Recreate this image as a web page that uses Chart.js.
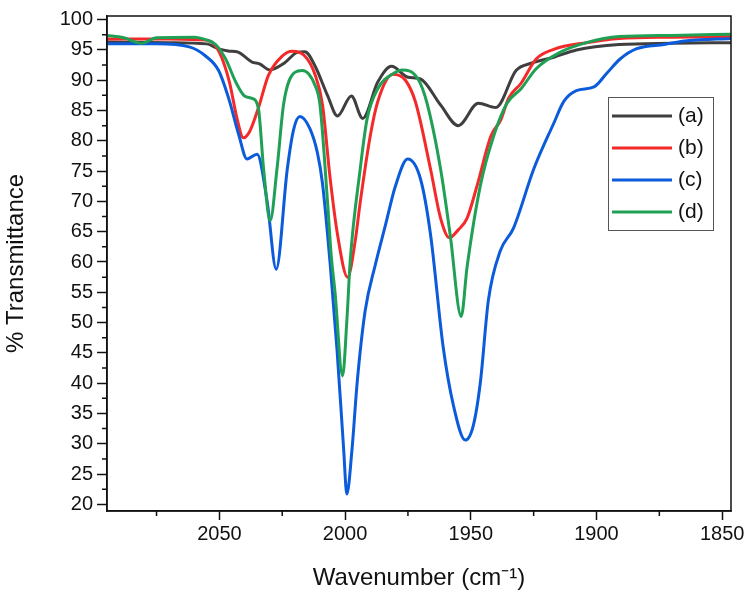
<!DOCTYPE html>
<html>
<head>
<meta charset="utf-8">
<script src="https://cdn.jsdelivr.net/npm/chart.js@4.4.0/dist/chart.umd.min.js"></script>
<style>
  html, body { margin: 0; padding: 0; background: #fff; }
  #wrap { width: 750px; height: 600px; }
</style>
</head>
<body>
<div id="wrap"><canvas id="irChart" width="750" height="600"></canvas></div>
<script>
// wavenumber (cm-1) / % transmittance for each sample
var aWave = [2095, 2070, 2055, 2051, 2046, 2043, 2037, 2034, 2030, 2024, 2019, 2016, 2012, 2007, 2003, 1997.5, 1993, 1987, 1981.5, 1975, 1970, 1962, 1955, 1947, 1940, 1932, 1926, 1917, 1908, 1891, 1870, 1846];
var aTrans = [96.3, 96.2, 96.0, 95.3, 94.8, 94.7, 93.0, 92.7, 91.7, 92.9, 94.6, 94.7, 92.4, 87.5, 84.1, 87.4, 83.7, 89.7, 92.3, 90.5, 90.2, 85.9, 82.5, 86.2, 85.5, 91.6, 92.8, 93.8, 95.0, 95.9, 96.1, 96.2];

var bWave = [2095, 2070, 2058, 2054, 2050, 2046, 2043, 2040.5, 2038, 2034.5, 2030.5, 2025, 2021, 2016, 2012, 2009, 2006, 2003, 1999, 1996, 1994, 1990, 1987, 1981, 1976, 1972, 1966, 1962, 1958.5, 1955, 1951.5, 1947.5, 1942, 1938, 1935, 1930, 1924, 1917, 1904, 1891, 1870, 1846];
var bTrans = [96.8, 96.8, 96.7, 96.5, 94.6, 89.7, 83.7, 80.5, 81.5, 85.4, 90.8, 94.0, 94.8, 94.0, 91.0, 86.0, 74.0, 64.5, 57.5, 63.4, 69.8, 80.8, 86.5, 91.0, 90.0, 86.4, 75.3, 67.2, 64.0, 65.3, 67.2, 72.6, 80.8, 83.5, 87.0, 89.5, 93.5, 95.1, 96.2, 96.9, 97.1, 97.2];

var cWave = [2095, 2075, 2062, 2055.5, 2050.3, 2046.3, 2042.3, 2039, 2035, 2031, 2027.4, 2023, 2020.5, 2018, 2014, 2011, 2009, 2006, 2003.2, 2000.6, 1999.3, 1997.2, 1995.2, 1992, 1988, 1984, 1980, 1975.1, 1970, 1966, 1961, 1957, 1952.2, 1949, 1946.2, 1943, 1938.3, 1933, 1925, 1917, 1913, 1908, 1901, 1896, 1890.6, 1884, 1873, 1864, 1846];
var cTrans = [96.0, 96.0, 95.5, 94.0, 91.6, 87.0, 81.0, 77.0, 77.8, 70.0, 58.8, 75.3, 81.8, 84.0, 82.0, 78.0, 73.0, 60.0, 45.5, 29.3, 21.7, 29.3, 40.1, 52.0, 59.5, 66.0, 72.5, 77.0, 73.7, 64.5, 46.0, 36.5, 30.6, 33.0, 40.1, 53.7, 61.8, 65.6, 75.3, 82.9, 86.5, 88.3, 88.9, 91.1, 93.5, 95.2, 95.9, 96.5, 96.9];

var dWave = [2095, 2088, 2081, 2075, 2060, 2055.5, 2051.5, 2047.5, 2043.5, 2040, 2037, 2034.5, 2032.4, 2029.8, 2027.1, 2024.4, 2020, 2017, 2012, 2010, 2007, 2005.5, 2004, 2001, 1999.2, 1998, 1994, 1991.3, 1987, 1980, 1977.5, 1971, 1967.4, 1962, 1958.2, 1953.8, 1951.5, 1946.2, 1940.9, 1935.6, 1930, 1924, 1914.5, 1904, 1891, 1870, 1846];
var dTrans = [97.4, 97.0, 96.1, 97.0, 97.1, 96.7, 95.9, 93.5, 89.7, 87.4, 87.0, 85.4, 75.3, 66.8, 75.3, 86.2, 91.3, 91.6, 89.2, 86.0, 70.0, 61.0, 55.0, 41.2, 51.0, 60.0, 75.3, 83.5, 88.6, 91.3, 91.7, 90.2, 86.2, 75.3, 64.5, 51.0, 59.1, 72.6, 80.8, 86.2, 88.6, 91.9, 94.6, 96.2, 97.2, 97.4, 97.6];

var seriesLabels = ['(a)', '(b)', '(c)', '(d)'];
var seriesColors = ['#3f3f3f', '#f42a2a', '#0b5bdb', '#20a055'];

var xTicks = [2050, 2000, 1950, 1900, 1850];
var xMinor = [2075, 2025, 1975, 1925, 1875];
var yTicks = [20, 25, 30, 35, 40, 45, 50, 55, 60, 65, 70, 75, 80, 85, 90, 95, 100];
var yMinor = [22.5, 27.5, 32.5, 37.5, 42.5, 47.5, 52.5, 57.5, 62.5, 67.5, 72.5, 77.5, 82.5, 87.5, 92.5, 97.5];

function toPoints(xs, ys) {
	var pts = [];
	for (var i = 0; i < xs.length; i++) {
		pts.push({x: xs[i], y: ys[i]});
	}
	return pts;
}

var waves = [aWave, bWave, cWave, dWave];
var trans = [aTrans, bTrans, cTrans, dTrans];
var drawOrder = [4, 3, 2, 1];

var datasets = [];
for (var i = 0; i < seriesLabels.length; i++) {
	datasets.push({
		label: seriesLabels[i],
		data: toPoints(waves[i], trans[i]),
		borderColor: seriesColors[i],
		backgroundColor: seriesColors[i],
		borderWidth: 3,
		pointRadius: 0,
		fill: false,
		cubicInterpolationMode: 'monotone',
		order: drawOrder[i]
	});
}

var FONT = '"Liberation Sans", Arial, sans-serif';

// frame, minor ticks and the boxed legend inside the plot
var framePlugin = {
	id: 'frame',
	afterDraw: function(chart) {
		var ctx = chart.ctx;
		var area = chart.chartArea;
		var xs = chart.scales.x, ys = chart.scales.y;
		ctx.save();
		ctx.strokeStyle = '#111';
		ctx.lineWidth = 1.5;
		ctx.strokeRect(area.left, area.top, area.right - area.left, area.bottom - area.top);

		ctx.beginPath();
		xMinor.forEach(function(v) {
			var px = xs.getPixelForValue(v);
			ctx.moveTo(px, area.bottom);
			ctx.lineTo(px, area.bottom + 5);
		});
		yMinor.forEach(function(v) {
			var py = ys.getPixelForValue(v);
			ctx.moveTo(area.left, py);
			ctx.lineTo(area.left - 5, py);
		});
		ctx.stroke();

		// legend
		var bx = 608, by = 97, bw = 105, bh = 133;
		ctx.fillStyle = '#fff';
		ctx.fillRect(bx, by, bw, bh);
		ctx.strokeStyle = '#555';
		ctx.lineWidth = 1;
		ctx.strokeRect(bx + 0.5, by + 0.5, bw, bh);
		ctx.font = '21px ' + FONT;
		ctx.textBaseline = 'middle';
		chart.data.datasets.forEach(function(ds, k) {
			var ly = by + 19 + k * 32;
			ctx.strokeStyle = ds.borderColor;
			ctx.lineWidth = 3;
			ctx.beginPath();
			ctx.moveTo(bx + 4, ly);
			ctx.lineTo(bx + 64, ly);
			ctx.stroke();
			ctx.fillStyle = '#111';
			ctx.fillText(ds.label, bx + 70, ly);
		});
		ctx.restore();
	}
};

var ctx = document.getElementById('irChart');
var irChart = new Chart(ctx, {
	type: 'line',
	data: { datasets: datasets },
	plugins: [framePlugin],
	options: {
		responsive: false,
		animation: false,
		layout: { padding: { top: 11, right: 19, bottom: 5, left: 0 } },
		plugins: {
			legend: { display: false },
			tooltip: { enabled: false }
		},
		scales: {
			x: {
				type: 'linear',
				reverse: true,
				min: 1846.5,
				max: 2094.7,
				afterFit: function(scale) { scale.height = 84; },
				afterBuildTicks: function(scale) {
					scale.ticks = xTicks.map(function(v) { return {value: v}; });
				},
				border: { display: true, color: '#111', width: 1.5 },
				grid: { drawOnChartArea: false, drawTicks: true, tickLength: 9, tickColor: '#111', tickWidth: 1.5 },
				ticks: {
					color: '#111', font: { family: FONT, size: 20 }, padding: 2, maxRotation: 0,
					callback: function(v) { return String(v); }
				},
				title: { display: true, text: 'Wavenumber (cm\u207B\u00B9)', color: '#111', font: { family: FONT, size: 24 }, padding: { top: 4, bottom: 2 } }
			},
			y: {
				min: 18.9,
				max: 100.6,
				afterFit: function(scale) { scale.width = 107; },
				afterBuildTicks: function(scale) {
					scale.ticks = yTicks.map(function(v) { return {value: v}; });
				},
				border: { display: true, color: '#111', width: 1.5 },
				grid: { drawOnChartArea: false, drawTicks: true, tickLength: 10, tickColor: '#111', tickWidth: 1.5 },
				ticks: {
					color: '#111', font: { family: FONT, size: 20 }, padding: 4,
					callback: function(v) { return String(v); }
				},
				title: { display: true, text: '% Transmittance', color: '#111', font: { family: FONT, size: 24 }, padding: { top: 2, bottom: 4 } }
			}
		}
	}
});
</script>
</body>
</html>
